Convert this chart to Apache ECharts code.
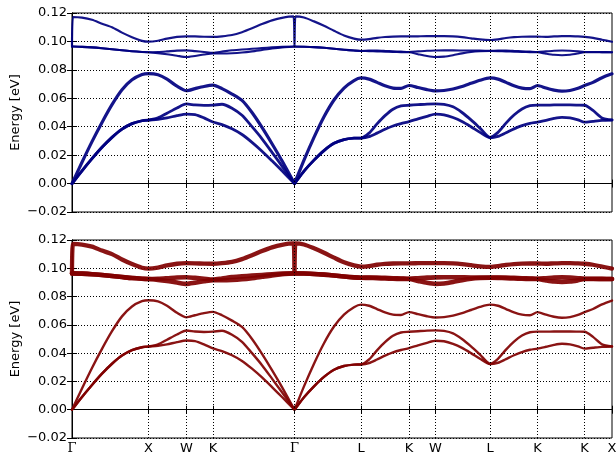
<!DOCTYPE html>
<html><head><meta charset="utf-8">
<script src="https://cdn.jsdelivr.net/npm/echarts@6/dist/echarts.min.js"></script>
<style>html,body{margin:0;padding:0;background:#fff}#c{width:616px;height:455px}</style>
</head><body><div id="c"></div>
<script>
// path distance (arbitrary units along Γ-X-W-K-Γ-L-K-W-L-K-K-X)
const kDist = [0, 1, 10, 20, 30, 40, 50, 60, 70, 76.5,
  86, 95, 105, 114.5,
  123, 132, 141,
  150, 160, 170, 180, 190, 200, 210, 221.5, 222.5,
  223.5, 232, 242, 252, 262, 272, 282, 289,
  297, 305, 313, 321, 329, 337,
  346, 355, 363.5,
  372, 381, 390, 399, 408, 418,
  426, 434, 442, 450, 458, 465.5,
  474, 482, 490, 498, 506, 512.5,
  521, 530, 540];

const band1 = [0, .0009, .0090, .0175, .0255, .0325, .0383, .0422, .0442, .0447,
  .0452, .0462, .0478, .0489,
  .0485, .0462, .0433,
  .0415, .0385, .0345, .0290, .0228, .0160, .0090, .0007, 0,
  .0009, .0088, .0165, .0232, .0283, .0309, .0319, .0320,
  .0330, .0355, .0382, .0405, .0422, .0436,
  .0455, .0473, .0488,
  .0484, .0465, .0437, .0400, .0360, .0322,
  .0332, .0358, .0385, .0408, .0424, .0432,
  .0445, .0458, .0466, .0462, .0448, .0432,
  .0438, .0444, .0447];

const band2 = [0, .0009, .0090, .0175, .0255, .0325, .0383, .0422, .0442, .0447,
  .0462, .0495, .0532, .0560,
  .0553, .0550, .0552,
  .0558, .0530, .0480, .0400, .0315, .0220, .0123, .0010, 0,
  .0009, .0088, .0165, .0232, .0283, .0309, .0319, .0320,
  .0355, .0420, .0478, .0523, .0546, .0551,
  .0555, .0559, .0561,
  .0557, .0540, .0500, .0448, .0390, .0325,
  .0360, .0425, .0482, .0525, .0548, .0552,
  .0552, .0553, .0553, .0553, .0552, .0551,
  .0515, .0462, .0448];

const band3 = [0, .0015, .0150, .0295, .0430, .0555, .0660, .0730, .0767, .0774,
  .0766, .0735, .0685, .0653,
  .0668, .0683, .0692,
  .0668, .0630, .0585, .0500, .0395, .0280, .0160, .0013, 0,
  .0017, .0165, .0325, .0470, .0588, .0672, .0725, .0743,
  .0735, .0712, .0688, .0672, .0670, .0690,
  .0676, .0661, .0652,
  .0655, .0665, .0683, .0705, .0727, .0743,
  .0735, .0712, .0688, .0672, .0668, .0690,
  .0672, .0657, .0650, .0655, .0670, .0690,
  .0712, .0745, .0772];

const band4 = [.0964, .0964, .0962, .0958, .0952, .0945, .0938, .0931, .0926, .0924,
  .0918, .0910, .0899, .0890,
  .0898, .0908, .0916,
  .0915, .0917, .0922, .0930, .0940, .0950, .0958, .0963, .0964,
  .0963, .0963, .0960, .0955, .0949, .0942, .0936, .0933,
  .0932, .0930, .0928, .0926, .0925, .0924,
  .0910, .0897, .0890,
  .0893, .0903, .0916, .0926, .0931, .0933,
  .0932, .0930, .0928, .0926, .0925, .0924,
  .0914, .0906, .0903, .0906, .0915, .0924,
  .0924, .0924, .0924];

const band5 = [.0964, .0964, .0962, .0958, .0952, .0945, .0938, .0931, .0926, .0924,
  .0926, .0930, .0935, .0937,
  .0932, .0926, .0920,
  .0928, .0938, .0943, .0948, .0953, .0958, .0962, .0964, .0964,
  .0964, .0963, .0960, .0955, .0949, .0942, .0936, .0933,
  .0935, .0935, .0933, .0930, .0928, .0926,
  .0930, .0934, .0936,
  .0937, .0937, .0936, .0935, .0935, .0934,
  .0935, .0935, .0933, .0930, .0928, .0926,
  .0930, .0934, .0936, .0934, .0930, .0926,
  .0926, .0925, .0924];

const band6 = [.0964, .1172, .1168, .1153, .1125, .1100, .1062, .1030, .1004, .0998,
  .1005, .1020, .1032, .1036,
  .1035, .1033, .1032,
  .1036, .1045, .1065, .1092, .1122, .1148, .1166, .1176, .0964,
  .1176, .1168, .1141, .1110, .1075, .1042, .1020, .1012,
  .1016, .1025, .1031, .1034, .1035, .1035,
  .1036, .1037, .1037,
  .1037, .1035, .1030, .1022, .1014, .1010,
  .1015, .1024, .1030, .1033, .1034, .1034,
  .1032, .1035, .1037, .1037, .1035, .1032,
  .1025, .1012, .0998];

const tickPos = [0, 76.5, 114.5, 141, 222.5, 289, 337, 363.5, 418, 465.5, 512.5, 540];
const tickLabels = ['Γ', 'X', 'W', 'K', 'Γ', 'L', 'K', 'W', 'L', 'K', 'K', 'X'];
const yMin = -0.02, yMax = 0.12, yStep = 0.02;

const bands = [band1, band2, band3, band4, band5, band6];
const panels = [
  {top: 13, height: 199, color: '#000080', widths: [2.8, 2.8, 3.2, 2.1, 2.1, 2.2]},
  {top: 240, height: 198, color: '#800000', widths: [2.4, 2.4, 2.4, 4.6, 4.6, 4.3]}
];
const FONT = 'DejaVu Sans';
const FS = 13;
const dotted = {color: '#000', type: [1, 2], width: 1};

const grid = [], xAxis = [], yAxis = [], series = [];
panels.forEach((p, g) => {
  grid.push({left: 72, right: 4, top: p.top, height: p.height, show: true,
    borderColor: '#000', borderWidth: 1, containLabel: false, outerBoundsMode: 'none'});
  const isBottom = g === panels.length - 1;
  xAxis.push({type: 'value', gridIndex: g, min: 0, max: 540, position: 'bottom',
    axisLine: {show: true, lineStyle: {color: '#000'}},
    axisTick: {show: true, inside: true, length: 4, customValues: tickPos, lineStyle: {color: '#000'}},
    axisLabel: {show: isBottom, customValues: tickPos, showMinLabel: true, showMaxLabel: true,
      color: '#000', fontSize: FS, fontFamily: FONT, margin: 4,
      formatter: v => { const i = tickPos.indexOf(v); const t = i >= 0 ? tickLabels[i] : ''; return t === 'Γ' ? '{g|Γ}' : t; },
      rich: {g: {fontFamily: 'DejaVu Serif', fontSize: FS, color: '#000'}}},
    splitLine: {show: false}});
  xAxis.push({type: 'value', gridIndex: g, min: 0, max: 540, position: 'top',
    axisLine: {show: true, lineStyle: {color: '#000'}},
    axisTick: {show: true, inside: true, length: 4, customValues: tickPos, lineStyle: {color: '#000'}},
    axisLabel: {show: false}, splitLine: {show: false}});
  yAxis.push({type: 'value', gridIndex: g, min: yMin, max: yMax, interval: yStep, position: 'left',
    name: 'Energy [eV]', nameLocation: 'middle', nameGap: 50, nameMoveOverlap: false,
    nameTextStyle: {color: '#000', fontSize: FS, fontFamily: FONT},
    axisLine: {show: true, lineStyle: {color: '#000'}},
    axisTick: {show: true, inside: true, length: 5, lineStyle: {color: '#000'}},
    axisLabel: {color: '#000', fontSize: FS, fontFamily: FONT, margin: 5,
      formatter: v => (v < -1e-9 ? '\u2212' + Math.abs(v).toFixed(2) : Math.abs(v).toFixed(2))},
    splitLine: {show: true, lineStyle: dotted}});
  yAxis.push({type: 'value', gridIndex: g, min: yMin, max: yMax, interval: yStep, position: 'right',
    axisLine: {show: true, lineStyle: {color: '#000'}},
    axisTick: {show: true, inside: true, length: 5, lineStyle: {color: '#000'}},
    axisLabel: {show: false}, splitLine: {show: false}});
  // vertical dotted lines at high-symmetry points
  series.push({type: 'line', xAxisIndex: 2 * g, yAxisIndex: 2 * g, data: [], z: 1, silent: true,
    markLine: {silent: true, symbol: 'none', label: {show: false}, lineStyle: dotted, animation: false,
      data: tickPos.slice(1, -1).map(v => ({xAxis: v}))}});
  bands.forEach((b, bi) => {
    series.push({type: 'line', xAxisIndex: 2 * g, yAxisIndex: 2 * g, z: 3,
      data: kDist.map((x, i) => [x, b[i]]),
      showSymbol: false, symbol: 'none', smooth: 0.25, clip: true,
      lineStyle: {color: p.color, width: p.widths[bi], opacity: 0.92, cap: 'round', join: 'round'}});
  });
});

const chart = echarts.init(document.getElementById('c'), null, {renderer: 'canvas'});
chart.setOption({animation: false, backgroundColor: '#fff', grid, xAxis, yAxis, series});
</script></body></html>
